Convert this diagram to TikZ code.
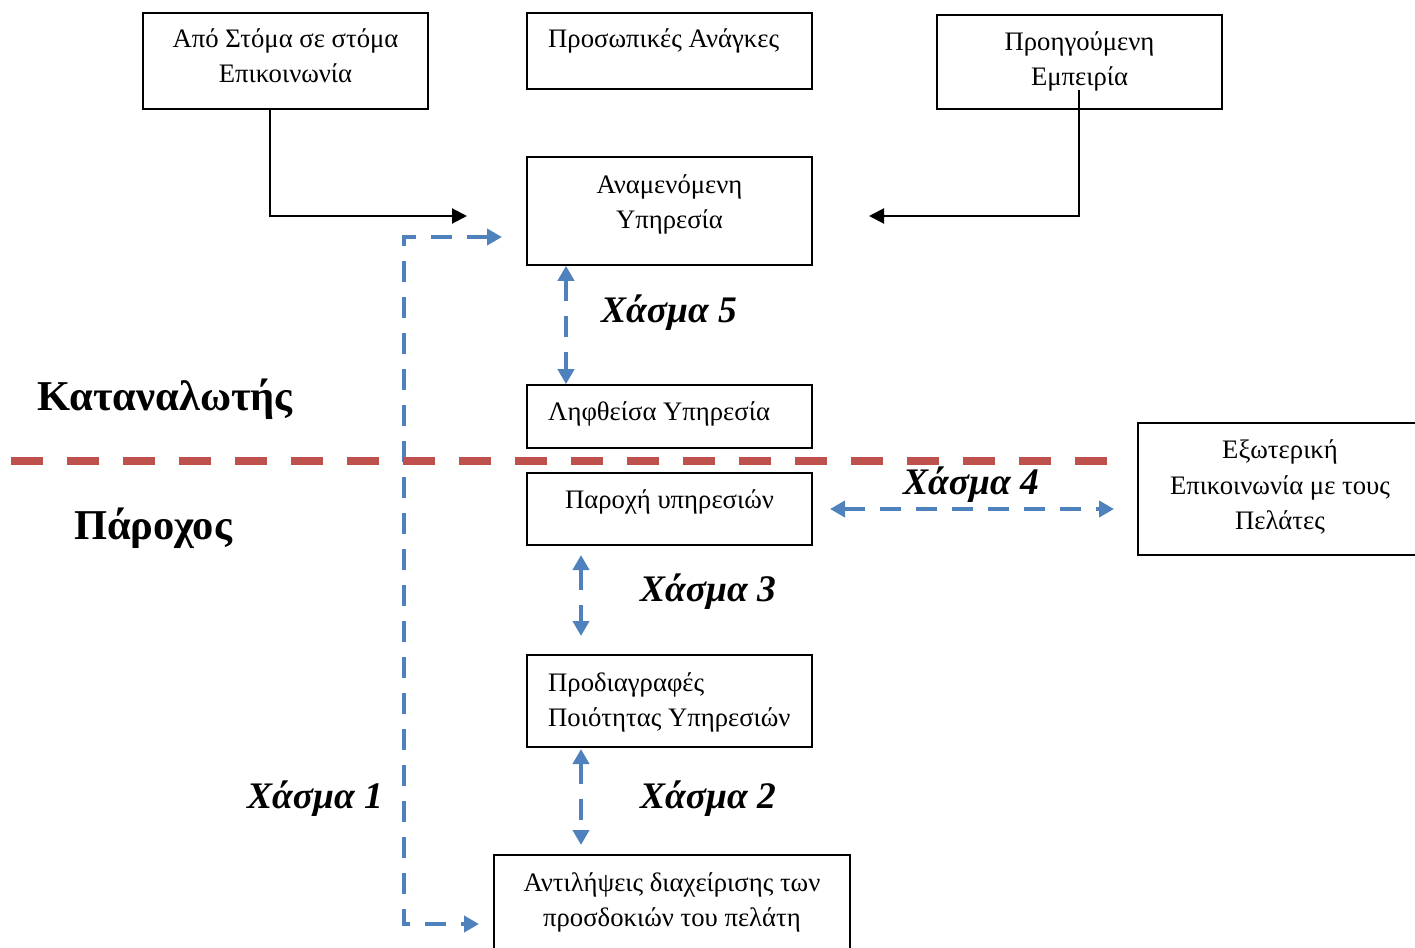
\documentclass[tikz,border=0pt]{standalone}
\usepackage{fontspec}
\setmainfont{Liberation Serif}
\usetikzlibrary{arrows.meta}
\definecolor{gapblue}{HTML}{4F81BD}
\definecolor{splitred}{HTML}{C0504D}
\begin{document}
\begin{tikzpicture}[x=1pt,y=-1pt,
  box/.style={draw=black, line width=1.6pt, inner sep=0pt},
  txt/.style={font=\fontsize{26.7}{35}\selectfont, inner sep=0pt},
  side/.style={font=\fontsize{42.5}{50}\selectfont\bfseries, inner sep=0pt, anchor=base west},
  gaplbl/.style={font=\fontsize{37.5}{40}\selectfont\bfseries\itshape, inner sep=0pt, anchor=base west},
  link/.style={draw=black, line width=2pt, -{Triangle[length=15pt,width=15pt]}},
  gapln/.style={draw=gapblue, line width=4.8pt, dash pattern=on 21pt off 15pt,
    {Triangle[length=15pt,width=16pt]}-{Triangle[length=15pt,width=16pt]}},
]
\useasboundingbox (0,0) rectangle (1415,947);

% boxes
\node[box, minimum width=285pt, minimum height=96pt]  (b1) at (285.5,61) {};
\node[box, minimum width=285pt, minimum height=76pt]  (b2) at (669.5,51) {};
\node[box, minimum width=285pt, minimum height=94pt]  (b3) at (1079.5,62) {};
\node[box, minimum width=285pt, minimum height=108pt] (b4) at (669.5,211) {};
\node[box, minimum width=285pt, minimum height=63pt]  (b5) at (669.5,416.5) {};
\node[box, minimum width=285pt, minimum height=72pt]  (b6) at (669.5,509) {};
\node[box, minimum width=285pt, minimum height=92pt]  (b7) at (669.5,701) {};
\node[box, minimum width=356pt, minimum height=100pt] (b8) at (672,905) {};
\node[box, minimum width=287pt, minimum height=132pt] (b9) at (1281.5,489) {};

% box texts
\node[txt, anchor=base] (t1a) at (285.5,48) {Από Στόμα σε στόμα};
\node[txt, anchor=base] (t1b) at (285.5,83) {Επικοινωνία};
\node[txt, anchor=base west] (t2) at (548,48) {Προσωπικές Ανάγκες};
\node[txt, anchor=base] (t3a) at (1079.5,51) {Προηγούμενη};
\node[txt, anchor=base] (t3b) at (1079.5,86) {Εμπειρία};
\node[txt, anchor=base] (t4a) at (669.5,193) {Αναμενόμενη};
\node[txt, anchor=base] (t4b) at (669.5,228) {Υπηρεσία};
\node[txt, anchor=base west] (t5) at (548,420) {Ληφθείσα Υπηρεσία};
\node[txt, anchor=base] (t6) at (669.5,508) {Παροχή υπηρεσιών};
\node[txt, anchor=base west] (t7a) at (548,691) {Προδιαγραφές};
\node[txt, anchor=base west] (t7b) at (548,726) {Ποιότητας Υπηρεσιών};
\node[txt, anchor=base] (t8a) at (672,891) {Αντιλήψεις διαχείρισης των};
\node[txt, anchor=base] (t8b) at (672,926) {προσδοκιών του πελάτη};
\node[txt, anchor=base] (t9a) at (1280,458) {Εξωτερική};
\node[txt, anchor=base] (t9b) at (1280,494) {Επικοινωνία με τους};
\node[txt, anchor=base] (t9c) at (1280,529) {Πελάτες};

% side labels
\node[side] (cons) at (37,410) {Καταναλωτής};
\node[side] (prov) at (74,539) {Πάροχος};

% gap labels
\node[gaplbl] (g5l) at (601,322) {Χάσμα 5};
\node[gaplbl] (g4l) at (903,494) {Χάσμα 4};
\node[gaplbl] (g3l) at (640,601) {Χάσμα 3};
\node[gaplbl] (g2l) at (640,808) {Χάσμα 2};
\node[gaplbl] (g1l) at (247,808) {Χάσμα 1};

% black influence arrows into the expected service
\coordinate (wA) at (270,216);
\coordinate (tipA) at (467,216);
\draw[link] (b1.south -| wA) -- (wA) -- (tipA);
\coordinate (eB0) at (1079,90);
\coordinate (eB) at (1079,216);
\coordinate (tipB) at (869,216);
\draw[link] (eB0) -- (eB) -- (tipB);

% gap 1 bracket
\coordinate (g1a) at (502,237);
\coordinate (g1c) at (404,237);
\coordinate (g1d) at (404,924);
\coordinate (g1b) at (479,924);
\draw[gapln] (g1a) -- (g1c) -- (g1d) -- (g1b);

% gap 5
\coordinate (g5x) at (566,0);
\draw[gapln] (b4.south -| g5x) -- (b5.north -| g5x);

% gap 4
\coordinate (g4a) at (830,509);
\coordinate (g4b) at (1114,509);
\draw[gapln] (g4a) -- (g4b);

% gap 3
\coordinate (g3a) at (581,555);
\coordinate (g3b) at (581,636);
\draw[gapln] (g3a) -- (g3b);

% gap 2
\coordinate (g2a) at (581,749);
\coordinate (g2b) at (581,845);
\draw[gapln] (g2a) -- (g2b);

% consumer / provider boundary
\coordinate (rA) at (11,461);
\coordinate (rB) at (1108,461);
\draw[splitred, line width=8pt, dash pattern=on 32pt off 24pt] (rA) -- (rB);
\end{tikzpicture}
\end{document}
